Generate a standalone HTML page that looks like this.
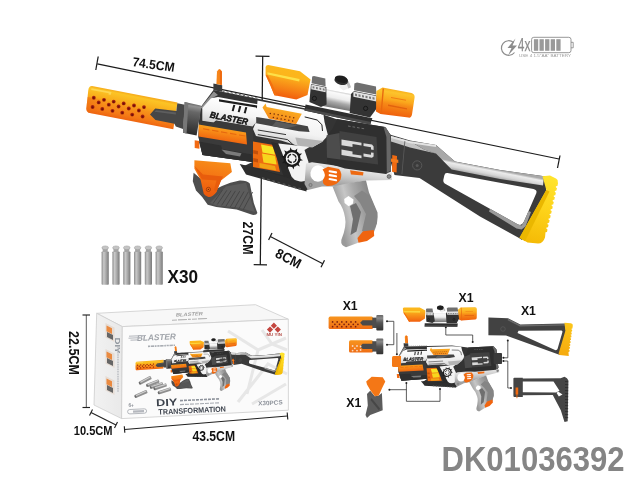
<!DOCTYPE html>
<html lang="en"><head><meta charset="utf-8"><title>DK01036392</title>
<style>html,body{margin:0;padding:0;background:#fff;overflow:hidden}svg{display:block}</style></head>
<body>
<svg width="640" height="480" viewBox="0 0 640 480">
<defs><filter id="idf" x="0" y="0" width="640" height="480" filterUnits="userSpaceOnUse" color-interpolation-filters="sRGB"><feGaussianBlur stdDeviation="0.45"/></filter><linearGradient id="gSilv" gradientUnits="userSpaceOnUse" x1="480" y1="166.4" x2="478" y2="176.6"><stop offset="0" stop-color="#a8a8a8"/><stop offset="0.2" stop-color="#ececec"/><stop offset="0.55" stop-color="#d6d6d6"/><stop offset="1" stop-color="#8f8f8f"/></linearGradient><linearGradient id="gYel" gradientUnits="userSpaceOnUse" x1="548" y1="178" x2="532" y2="242"><stop offset="0" stop-color="#ffe32c"/><stop offset="0.5" stop-color="#fdd219"/><stop offset="1" stop-color="#f5bb07"/></linearGradient><linearGradient id="gFP" gradientUnits="userSpaceOnUse" x1="232" y1="100" x2="228" y2="124"><stop offset="0" stop-color="#ffffff"/><stop offset="0.55" stop-color="#f4f4f4"/><stop offset="1" stop-color="#d4d4d4"/></linearGradient><linearGradient id="gMid" gradientUnits="userSpaceOnUse" x1="300" y1="108" x2="293" y2="148"><stop offset="0" stop-color="#ffffff"/><stop offset="0.6" stop-color="#f2f2f2"/><stop offset="1" stop-color="#cfcfcf"/></linearGradient><linearGradient id="gVent" gradientUnits="userSpaceOnUse" x1="282" y1="106" x2="278" y2="123"><stop offset="0" stop-color="#fbb524"/><stop offset="0.35" stop-color="#f9a11e"/><stop offset="1" stop-color="#f3851a"/></linearGradient><linearGradient id="gHg" gradientUnits="userSpaceOnUse" x1="222" y1="127" x2="220" y2="141"><stop offset="0" stop-color="#f9a21b"/><stop offset="0.4" stop-color="#f88a17"/><stop offset="1" stop-color="#ef650f"/></linearGradient><linearGradient id="gFrame" gradientUnits="userSpaceOnUse" x1="350" y1="165" x2="347" y2="186"><stop offset="0" stop-color="#f0f0f0"/><stop offset="0.5" stop-color="#cfcfcf"/><stop offset="1" stop-color="#a2a2a2"/></linearGradient><linearGradient id="gGrip" gradientUnits="userSpaceOnUse" x1="338" y1="215" x2="376" y2="205"><stop offset="0" stop-color="#9a9a9a"/><stop offset="0.3" stop-color="#c6c6c6"/><stop offset="0.55" stop-color="#a8a8a8"/><stop offset="1" stop-color="#808080"/></linearGradient><linearGradient id="gBell" gradientUnits="userSpaceOnUse" x1="290" y1="66" x2="283.5" y2="99"><stop offset="0" stop-color="#fbb81c"/><stop offset="0.3" stop-color="#fcb51c"/><stop offset="0.5" stop-color="#f99a19"/><stop offset="0.75" stop-color="#f57a14"/><stop offset="1" stop-color="#f0560c"/></linearGradient><linearGradient id="gTube" gradientUnits="userSpaceOnUse" x1="340" y1="91" x2="336.5" y2="108"><stop offset="0" stop-color="#b8b8b8"/><stop offset="0.15" stop-color="#fafafa"/><stop offset="0.45" stop-color="#ededed"/><stop offset="0.7" stop-color="#a8a8a8"/><stop offset="1" stop-color="#7a7a7a"/></linearGradient><linearGradient id="gEye" gradientUnits="userSpaceOnUse" x1="398" y1="90" x2="393.5" y2="117"><stop offset="0" stop-color="#f9ae1b"/><stop offset="0.12" stop-color="#fdc42c"/><stop offset="0.4" stop-color="#fba81c"/><stop offset="0.55" stop-color="#f68a17"/><stop offset="1" stop-color="#ef5c0c"/></linearGradient><linearGradient id="gSil" gradientUnits="userSpaceOnUse" x1="132" y1="94" x2="126.5" y2="121"><stop offset="0" stop-color="#f6ab1b"/><stop offset="0.08" stop-color="#fcc425"/><stop offset="0.36" stop-color="#f9ad1b"/><stop offset="0.5" stop-color="#f7931a"/><stop offset="0.8" stop-color="#f47a16"/><stop offset="1" stop-color="#ee6110"/></linearGradient><linearGradient id="gSilL" gradientUnits="userSpaceOnUse" x1="87" y1="100" x2="104" y2="103"><stop offset="0" stop-color="#ee6a10" stop-opacity="0.55"/><stop offset="1" stop-color="#ee6a10" stop-opacity="0"/></linearGradient><linearGradient id="gRing" gradientUnits="userSpaceOnUse" x1="193" y1="103" x2="188" y2="134"><stop offset="0" stop-color="#5a5a5a"/><stop offset="0.1" stop-color="#939393"/><stop offset="0.28" stop-color="#676767"/><stop offset="0.7" stop-color="#434343"/><stop offset="1" stop-color="#2c2c2c"/></linearGradient><linearGradient id="gFg" gradientUnits="userSpaceOnUse" x1="214" y1="161" x2="207" y2="196"><stop offset="0" stop-color="#f78c18"/><stop offset="0.45" stop-color="#f47414"/><stop offset="1" stop-color="#ec590c"/></linearGradient><linearGradient id="gDartG" gradientUnits="userSpaceOnUse" x1="0" y1="0" x2="7.2" y2="0"><stop offset="0" stop-color="#8a8a8a"/><stop offset="0.3" stop-color="#c9c9c9"/><stop offset="0.6" stop-color="#a9a9a9"/><stop offset="1" stop-color="#7a7a7a"/></linearGradient><g id="dart"><rect x="0" y="5.6" width="7.2" height="33.4" rx="0.8" fill="url(#gDartG)"/><rect x="1.1" y="2.2" width="5" height="4" fill="#a4a4a4"/><ellipse cx="3.6" cy="2" rx="3.3" ry="1.9" fill="#c4c4c4" stroke="#9a9a9a" stroke-width="0.5"/></g><linearGradient id="gBoxL" gradientUnits="userSpaceOnUse" x1="96" y1="360" x2="122" y2="360"><stop offset="0" stop-color="#f1f1f1"/><stop offset="1" stop-color="#e9e9e9"/></linearGradient><linearGradient id="gPS" x1="0" y1="0" x2="0" y2="1"><stop offset="0" stop-color="#f7941d"/><stop offset="0.3" stop-color="#f58a1c"/><stop offset="1" stop-color="#ef6d14"/></linearGradient><linearGradient id="gPR" x1="0" y1="0" x2="0" y2="1"><stop offset="0" stop-color="#666"/><stop offset="0.2" stop-color="#8a8a8a"/><stop offset="0.5" stop-color="#555"/><stop offset="1" stop-color="#333"/></linearGradient><linearGradient id="gPY" gradientUnits="userSpaceOnUse" x1="566" y1="323" x2="560" y2="356"><stop offset="0" stop-color="#fbc51a"/><stop offset="1" stop-color="#f5a90d"/></linearGradient></defs>
<rect width="640" height="480" fill="#fff"/>
<g filter="url(#idf)">
<g stroke="#1c1c1c" stroke-width="1.25" fill="none" stroke-linecap="butt">
<path d="M97.3,63.8 L559,159"/><path d="M98.2,56.5 L95.8,70"/><path d="M560,155.5 L557.5,168"/>
<path d="M262.7,56 L260.3,265"/><path d="M255.5,56.2 L269.5,56.4"/><path d="M253.7,264.6 L267,264.8"/>
<path d="M270.3,236.5 L322.8,263.8"/><path d="M272,233 L268.6,240"/><path d="M324.5,260.3 L321,267.3"/>
</g>
<text x="131.9" y="66.1" transform="rotate(8 131.9 66.1)" font-family="Liberation Sans, sans-serif" font-weight="bold" fill="#111" font-size="13" textLength="42.5" lengthAdjust="spacingAndGlyphs">74.5CM</text>
<text x="243" y="221.5" transform="rotate(90 243 221.5)" font-family="Liberation Sans, sans-serif" font-weight="bold" fill="#111" font-size="14.5" textLength="33" lengthAdjust="spacingAndGlyphs">27CM</text>
<text x="274.3" y="256.6" transform="rotate(27 274.3 256.6)" font-family="Liberation Sans, sans-serif" font-weight="bold" fill="#111" font-size="14" textLength="27" lengthAdjust="spacingAndGlyphs">8CM</text>
<g id="gun">
<g id="stock"><path fill-rule="evenodd" fill="#3b3b3b" d="M388,134 L410,140.5 L436,145 L455,161.5 L500,170 L546,176.5 L546,192 L522,240 L519,238 L480,216.5 L419.5,178 L394.5,175 L390,160Z M447.5,173 L533.5,189 Q537.5,190 536.3,193.3 L524,221.6 Q521.6,226.6 517.6,224.2 L446,184.3 Q443,182.8 443.3,180 L444.3,175.4 Q445,172.5 447.5,173Z"/><polygon points="410.0,141.0 436.0,145.0 455.0,161.5 500.0,170.0 544.0,176.3 543.0,185.4 500.0,179.0 451.6,169.4 436.0,153.4 424.0,149.6" fill="url(#gSilv)" /><polygon points="490.0,208.8 517.6,224.2 521.6,225.6 524.0,221.6 528.5,211.0 531.0,212.0 525.5,226.5 521.5,229.6 516.5,228.6 489.0,211.6" fill="#9c9c9c" /><path d="M542.5,176.3 L550,175.6 L556,178.6 Q558.3,180 557.8,182 L558.0,183.5 L557.4,186.0 L555.9,186.3 L555.9,187.5 L557.0,188.1 L556.4,190.6 L554.9,190.9 L554.8,192.1 L555.9,192.7 L555.3,195.2 L553.8,195.5 L553.8,196.7 L554.9,197.3 L554.3,199.8 L552.8,200.1 L552.7,201.3 L553.8,201.9 L553.2,204.4 L551.7,204.7 L551.7,205.9 L552.8,206.5 L552.2,209.0 L550.7,209.3 L550.6,210.4 L551.7,211.0 L551.2,213.6 L549.7,213.9 L549.6,215.0 L550.7,215.6 L550.1,218.2 L548.6,218.5 L548.5,219.6 L549.6,220.2 L549.1,222.8 L547.6,223.1 L547.5,224.2 L548.6,224.8 L548.0,227.3 L546.5,227.6 L546.4,228.8 L547.5,229.4 L547.0,231.9 L545.5,232.2 L545.4,233.4 L545,237.5 Q543,243.5 538,243.6 L527.5,242.5 L519.5,237.8 L546.3,190Z" fill="url(#gYel)"/><polygon points="546.3,190.0 549.5,191.5 525.0,241.2 519.5,237.8" fill="#eab700" /><circle cx="417.2" cy="165.4" r="4.6" fill="none" stroke="#585858" stroke-width="1"/><circle cx="417.2" cy="165.4" r="1.5" fill="#585858"/><polygon points="392.3,155.0 397.0,156.0 396.6,172.6 392.0,171.8" fill="#f06a12" /><polygon points="391.0,158.5 398.3,159.8 398.3,163.0 391.0,161.7" fill="#f27a1c" /><polygon points="391.0,136.0 410.0,141.2 424.0,149.6 436.0,153.4 410.0,147.4 391.0,141.6" fill="#c4c4c4" /><polygon points="391.0,136.0 410.0,141.2 436.0,145.0 436.0,147.0 410.0,143.2 391.0,138.0" fill="#e4e4e4" /><polygon points="404.5,141.0 405.3,141.2 402.3,174.2 401.5,174.1" fill="#5a5a5a" /></g>
<g id="body"><path d="M200,108 L213.5,90 L259,99 L306,108.5 L336,119 L385,127 L390.5,135 L391,171 L386,178.5 L352,178 L340,172 L331,176 L306,190.5 L246,173 L244,166 L252.5,162 L202.5,155 L198.5,137 L199,121Z" fill="#343434"/><polygon points="213.4,83.6 222.2,85.2 222.2,91.7 213.4,90.3" fill="#3a3a3a" /><path d="M216.4,84 L217,71.5 Q219.5,66.5 221.9,71.5 L221.9,85Z" fill="#f6851a"/><polygon points="219.8,70.0 221.9,71.5 221.9,85.0 220.0,84.6" fill="#ee6a10" /><polygon points="222.5,90.4 224.5,90.8 224.5,92.2 222.5,91.8" fill="#777" /><polygon points="226.6,91.2 228.6,91.6 228.6,93.0 226.6,92.6" fill="#777" /><polygon points="230.7,92.1 232.7,92.5 232.7,93.9 230.7,93.5" fill="#777" /><polygon points="234.8,92.9 236.8,93.3 236.8,94.7 234.8,94.3" fill="#777" /><polygon points="238.9,93.8 240.9,94.2 240.9,95.6 238.9,95.2" fill="#777" /><polygon points="243.0,94.6 245.0,95.0 245.0,96.4 243.0,96.0" fill="#777" /><polygon points="247.1,95.4 249.1,95.8 249.1,97.2 247.1,96.8" fill="#777" /><polygon points="251.2,96.3 253.2,96.7 253.2,98.1 251.2,97.7" fill="#777" /><polygon points="255.3,97.1 257.3,97.5 257.3,98.9 255.3,98.5" fill="#777" /><polygon points="200.3,108.0 213.8,91.5 218.0,95.0 211.5,98.5 203.0,108.5" fill="#909090" /><polygon points="202.3,108.0 211.0,98.2 218.0,97.0 259.0,104.6 263.0,107.0 261.0,122.0 256.0,122.5 252.5,126.5 216.0,120.5 213.5,122.5 202.3,120.8" fill="url(#gFP)" /><polygon points="219.0,99.2 257.5,105.4 260.2,109.0 258.0,109.4 256.0,107.4 219.0,101.6" fill="#1e1e1e" /><polygon points="233.3,104.8 235.3,105.1 233.7,111.3 231.7,111.0" fill="#1d1d1d" /><polygon points="239.3,105.8 241.3,106.2 239.7,112.3 237.7,112.0" fill="#1d1d1d" /><polygon points="245.3,106.9 247.3,107.2 245.7,113.4 243.7,113.0" fill="#1d1d1d" /><text x="209.6" y="117.6" transform="rotate(11 209.6 117.6)" font-family="Liberation Sans, sans-serif" font-weight="bold" font-style="italic" font-size="8.8" textLength="38.5" lengthAdjust="spacingAndGlyphs" fill="#111" stroke="#111" stroke-width="0.45">BLASTER</text><polygon points="257.5,100.4 306.0,110.0 323.5,114.8 324.5,122.0 328.0,135.6 322.0,142.0 312.5,147.3 300.0,146.5 281.0,140.5 256.0,136.0 253.0,129.0 256.0,122.0" fill="url(#gMid)" /><polygon points="256.2,116.9 266.0,118.6 296.0,124.0 307.8,126.2 309.6,132.0 299.0,131.2 256.2,123.2" fill="#444" /><polygon points="276.0,121.6 298.0,125.6 286.0,128.6 272.0,126.0" fill="#5b5b5b" /><path d="M304.7,116.9 L317.2,120 L321.9,124.7 L322.5,131" fill="none" stroke="#1f1f1f" stroke-width="1"/><path d="M257.8,130 L286,134.6 M257.8,134.6 L287.5,139.6 L294.5,146" fill="none" stroke="#1f1f1f" stroke-width="0.9"/><polygon points="295.3,137.6 323.4,141.0 312.5,147.3 298.0,146.4" fill="#b4b4b4" /><polygon points="262.5,107.5 265.6,103.4 266.6,106.9 301.8,113.8 296.0,124.2 268.8,118.6" fill="url(#gVent)" /><circle cx="270.3" cy="113.4" r="0.75" fill="#6e2a0a"/><circle cx="274.2" cy="114.1" r="0.75" fill="#6e2a0a"/><circle cx="278.1" cy="114.8" r="0.75" fill="#6e2a0a"/><circle cx="282.0" cy="115.6" r="0.75" fill="#6e2a0a"/><circle cx="285.9" cy="116.3" r="0.75" fill="#6e2a0a"/><circle cx="289.8" cy="117.0" r="0.75" fill="#6e2a0a"/><circle cx="293.7" cy="117.7" r="0.75" fill="#6e2a0a"/><circle cx="273.4" cy="117.6" r="0.75" fill="#6e2a0a"/><circle cx="277.2" cy="118.3" r="0.75" fill="#6e2a0a"/><circle cx="281.1" cy="119.0" r="0.75" fill="#6e2a0a"/><circle cx="284.9" cy="119.6" r="0.75" fill="#6e2a0a"/><circle cx="288.8" cy="120.3" r="0.75" fill="#6e2a0a"/><circle cx="292.6" cy="121.0" r="0.75" fill="#6e2a0a"/><polygon points="199.4,121.3 214.0,122.8 216.5,120.8 252.5,127.0 254.0,146.0 252.5,162.0 202.5,155.0 198.5,137.0" fill="#3a3a3a" /><polygon points="198.6,124.4 246.0,132.4 247.0,144.6 198.6,136.4" fill="url(#gHg)" /><polygon points="203.0,128.2 209.4,129.3 209.4,130.4 203.0,129.3" fill="#e6680f" /><polygon points="212.0,129.8 218.4,130.8 218.4,131.9 212.0,130.8" fill="#e6680f" /><polygon points="221.0,131.3 227.4,132.4 227.4,133.5 221.0,132.4" fill="#e6680f" /><polygon points="230.0,132.8 236.4,133.9 236.4,135.0 230.0,133.9" fill="#e6680f" /><polygon points="239.0,134.4 245.4,135.5 245.4,136.6 239.0,135.5" fill="#e6680f" /><polygon points="194.7,140.2 199.4,141.0 199.4,148.8 194.7,148.0" fill="#f26a12" /><polygon points="199.0,141.6 221.0,145.5 222.0,149.0 252.0,154.5 252.5,162.0 202.5,155.0" fill="#2f2f2f" /><polygon points="221.5,149.6 241.5,153.2 240.0,156.5 226.0,154.0" fill="#7a7a7a" /><polygon points="253.0,141.5 274.0,145.0 280.0,172.0 253.0,167.0" fill="#ee6c10" /><polygon points="253.2,150.0 258.0,151.0 258.0,154.5 253.2,153.5" fill="#c4500a" /><polygon points="253.2,158.0 258.0,159.0 258.0,162.5 253.2,161.5" fill="#c4500a" /><polygon points="261.0,144.6 273.0,146.8 275.0,154.8 262.5,152.6" fill="#f6e626" /><polygon points="262.0,153.6 275.0,155.8 276.6,164.6 263.5,162.4" fill="#f7d71d" /><polygon points="259.5,163.0 275.0,166.0 276.2,170.4 259.5,167.6" fill="#f1a414" /><polygon points="271.0,142.0 277.8,143.4 291.5,176.5 284.0,177.0" fill="#2b2b2b" /><polygon points="244.0,165.5 284.0,175.5 291.0,176.5 290.0,181.0 246.0,171.5" fill="#2b2b2b" /><polygon points="278.3,143.4 309.5,146.9 304.5,150.0 308.5,162.0 309.5,180.0 297.0,182.5 291.5,176.5" fill="#f3f3f3" /><path d="M299.8,158.4 L303.0,160.3 L299.3,161.0Z M298.3,163.0 L299.8,166.5 L296.4,164.8Z M294.4,165.8 L293.6,169.5 L291.8,166.2Z M289.6,165.8 L286.7,168.3 L287.2,164.6Z M285.7,163.0 L281.9,163.3 L284.5,160.6Z M284.2,158.4 L281.0,156.5 L284.7,155.8Z M285.7,153.8 L284.2,150.3 L287.6,152.0Z M289.6,151.0 L290.4,147.3 L292.2,150.6Z M294.4,151.0 L297.3,148.5 L296.8,152.2Z M298.3,153.8 L302.1,153.5 L299.5,156.2Z " fill="#1b1b1b"/><circle cx="292" cy="158.4" r="7.4" fill="none" stroke="#1b1b1b" stroke-width="2.3"/><circle cx="292" cy="158.4" r="4.1" fill="none" stroke="#1b1b1b" stroke-width="1.3" stroke-dasharray="5 1.44"/><polygon points="239.7,164.0 246.0,165.5 305.0,183.0 306.5,191.5 246.0,174.5 242.8,169.0" fill="#2e2e2e" /><polygon points="262.0,177.0 264.6,177.8 264.6,179.6 262.0,178.8" fill="#505050" /><polygon points="267.2,178.5 269.8,179.2 269.8,181.1 267.2,180.3" fill="#505050" /><polygon points="272.4,180.0 275.0,180.8 275.0,182.6 272.4,181.8" fill="#505050" /><polygon points="277.6,181.5 280.2,182.2 280.2,184.1 277.6,183.3" fill="#505050" /><polygon points="282.8,183.0 285.4,183.8 285.4,185.6 282.8,184.8" fill="#505050" /><polygon points="288.0,184.5 290.6,185.2 290.6,187.1 288.0,186.3" fill="#505050" /><polygon points="293.2,186.0 295.8,186.8 295.8,188.6 293.2,187.8" fill="#505050" /><polygon points="298.4,187.5 301.0,188.2 301.0,190.1 298.4,189.3" fill="#505050" /><path d="M306,163.5 L312,162.2 L345,167 L392,172.5 L392,180 L366,180.5 L352,183 L338,186.5 L322,186.5 L308,190 L304.5,184Z" fill="url(#gFrame)"/><ellipse cx="318" cy="173.5" rx="7.6" ry="8.2" transform="rotate(8 318 173.5)" fill="#ffffff"/><path d="M322.5,169.5 L328,166.8 L339,169 Q342.6,173 340.6,179.5 Q336.5,186.5 327,186 Q322,184.5 323,180 Q327,175 322.5,169.5Z" fill="#f1690f"/><rect x="328.5" y="170.6" width="8.6" height="2.1" rx="1" fill="#fff" transform="rotate(10 332 172.0)"/><rect x="328.5" y="174.5" width="8.6" height="2.1" rx="1" fill="#fff" transform="rotate(10 332 175.9)"/><rect x="328.5" y="178.4" width="8.6" height="2.1" rx="1" fill="#fff" transform="rotate(10 332 179.8)"/><polygon points="350.0,170.3 363.5,172.2 363.0,175.6 351.0,174.6" fill="#ee6a12" /><polygon points="327.0,136.0 333.0,128.0 337.0,119.0 385.0,127.0 390.5,135.0 391.0,171.0 386.0,174.0 345.0,168.5 327.0,163.0" fill="#2f2f2f" /><polygon points="339.5,131.0 376.5,137.0 378.0,164.5 340.5,159.5" fill="#414141" /><polygon points="326.5,135.6 339.5,133.0 340.5,159.5 327.0,157.8" fill="#4c4c4c" /><polygon points="383.6,127.2 386.0,127.4 390.5,135.0 391.0,170.5 386.8,173.0 386.4,137.0" fill="#676767" /><path d="M341.5,139.6 L361.5,142.8 L361.5,145.4 L352.5,144 L352.5,147 L341.5,145.2Z M341.5,149.6 L352.5,151.4 L352.5,154.2 L361.5,155.6 L361.5,158.2 L341.5,155Z" fill="#dadada"/><path d="M363.5,143.2 L372,144.6 L373.6,146.4 L373.6,150 L371,149.6 L371,147.2 L363.5,146Z M363.5,153.6 L371,154.8 L371,152.4 L373.6,152.8 L373.6,156.4 L372,157.8 L363.5,156.4Z" fill="#dadada"/><polygon points="348.0,125.6 350.6,126.0 350.6,127.0 348.0,126.6" fill="#6c6c6c" /><polygon points="352.5,126.3 355.1,126.8 355.1,127.8 352.5,127.3" fill="#6c6c6c" /><polygon points="357.0,127.1 359.6,127.5 359.6,128.5 357.0,128.1" fill="#6c6c6c" /><polygon points="361.5,127.8 364.1,128.2 364.1,129.2 361.5,128.8" fill="#6c6c6c" /><circle cx="389" cy="176.5" r="1.9" fill="#8a8a8a" stroke="#444" stroke-width="0.6"/><circle cx="310.5" cy="185" r="1.6" fill="#9a9a9a" stroke="#555" stroke-width="0.5"/><path d="M332.5,186.5 L352,182.5 L366,180.5 L369,192.5 L377.5,212.5 Q378.5,222 373.8,232.5 L357.5,243 L346,247.2 Q340.5,245.5 341.3,240 Q347,226 345,217.5 Q343.5,208 338.5,201.5Z" fill="url(#gGrip)"/><polygon points="354.0,196.0 362.0,190.5 370.0,196.0 377.0,213.0 377.0,223.0 372.0,233.5 362.0,231.0 366.0,214.0 360.0,203.0" fill="#858585" /><polygon points="350.0,206.0 356.0,203.0 361.0,212.0 356.5,231.5 350.5,235.0 353.0,219.0" fill="#6f6f6f" /><polygon points="344.2,199.0 348.5,196.0 353.5,199.5 353.0,203.5 348.6,206.2 344.6,203.0" fill="#ffffff" /><path d="M357.5,238 L363,231.2 L373.8,230 L374.2,236 L367,241 L358.5,242.7Z" fill="#f0640f"/></g>
<g id="scope"><path d="M265.6,67 Q266,65 268.2,65 L300,71.25 L310.6,79.4 L310,82 L307.5,95 L296.3,99.6 L274.4,95.2 L270,84.4 L265.6,75Z" fill="url(#gBell)"/><polygon points="267.3,72.2 299.6,79.0 299.2,81.4 267.6,74.6" fill="#fde048" /><polygon points="265.6,75.0 270.0,84.4 274.4,95.2 277.0,95.6 272.5,84.6 268.0,75.4" fill="#f4700f" /><polygon points="305.6,104.6 372.4,118.2 370.2,124.6 304.4,110.6" fill="#2f2f2f" /><polygon points="306.0,108.4 371.0,122.0 370.2,124.6 304.4,110.6" fill="#4a4a4a" /><polygon points="322.0,88.6 356.0,95.0 352.5,111.5 320.0,105.5" fill="url(#gTube)" /><polygon points="311.0,84.0 326.3,87.0 326.6,104.5 321.0,107.0 309.4,102.0" fill="#333" /><polygon points="312.2,76.6 314.0,76.0 325.3,78.6 325.6,86.2 311.6,83.3" fill="#6f6f6f" /><polygon points="311.3,84.4 325.6,87.4 325.6,92.3 311.3,89.3" fill="#e2e2e2" /><polygon points="312.6,86.2 314.4,86.6 314.4,88.6 312.6,88.2" fill="#7a7a7a" /><polygon points="316.0,86.9 317.8,87.3 317.8,89.3 316.0,88.9" fill="#7a7a7a" /><polygon points="319.4,87.6 321.2,88.0 321.2,90.0 319.4,89.6" fill="#7a7a7a" /><polygon points="322.8,88.3 324.6,88.7 324.6,90.7 322.8,90.3" fill="#7a7a7a" /><circle cx="314.4" cy="98.4" r="2.1" fill="none" stroke="#111" stroke-width="0.8"/><polygon points="340.0,82.5 348.5,81.0 351.0,87.3 343.5,90.5 339.5,87.5" fill="#f0f0f0" /><polygon points="346.0,82.0 348.5,81.0 351.0,87.3 348.4,88.4" fill="#bdbdbd" /><ellipse cx="341.2" cy="80.6" rx="6.9" ry="4.3" transform="rotate(14 341.2 80.6)" fill="#303030"/><ellipse cx="341.4" cy="79.2" rx="6.6" ry="3.5" transform="rotate(14 341.4 79.2)" fill="#1e1e1e"/><polygon points="351.0,94.0 354.0,91.0 376.6,95.6 377.0,108.0 370.0,117.5 349.7,113.0" fill="#333" /><polygon points="354.4,83.6 357.0,82.6 376.0,86.6 376.4,94.6 354.0,90.2" fill="#6f6f6f" /><polygon points="353.4,91.4 376.4,96.0 376.4,101.4 353.4,96.8" fill="#e2e2e2" /><polygon points="355.0,93.6 357.0,94.0 357.0,96.2 355.0,95.8" fill="#7a7a7a" /><polygon points="358.5,94.3 360.5,94.7 360.5,96.9 358.5,96.5" fill="#7a7a7a" /><polygon points="362.0,95.0 364.0,95.4 364.0,97.6 362.0,97.2" fill="#7a7a7a" /><polygon points="365.5,95.7 367.5,96.1 367.5,98.3 365.5,97.9" fill="#7a7a7a" /><polygon points="369.0,96.4 371.0,96.8 371.0,99.0 369.0,98.6" fill="#7a7a7a" /><polygon points="372.5,97.1 374.5,97.5 374.5,99.7 372.5,99.3" fill="#7a7a7a" /><circle cx="365.6" cy="108.4" r="2.1" fill="none" stroke="#111" stroke-width="0.8"/><path d="M376.4,91 L382.5,87.6 L411.5,93 Q415,94 414.6,97.5 L412,114.5 Q411.4,118 408.5,117.6 L380.5,114 L376,111.5Z" fill="url(#gEye)"/><polygon points="382.6,88.4 384.0,88.6 381.8,114.1 380.5,114.0" fill="#e8690f" /><polygon points="388.0,104.6 407.0,108.2 407.0,109.6 388.0,106.0" fill="#e2620e" /><polygon points="391.0,97.0 406.0,99.8 406.0,100.8 391.0,98.0" fill="#f07c14" /></g>
<g id="sil"><path d="M92,86 L177.5,102.4 L173.3,129.3 L88.5,112.8 Q86.3,111.5 86.3,109 L88.3,90 Q88.8,86 92,86Z" fill="url(#gSil)"/><path d="M87.6,97 L104,100 L102,115.5 L88.5,112.8 Q86.3,111.5 86.3,109Z" fill="url(#gSilL)"/><polygon points="91.5,88.2 111.5,92.1 110.8,94.8 108.5,94.4 108.8,93.3 91.2,89.9" fill="#fdd652" /><circle cx="93.8" cy="97.75" r="1.9" fill="#a3200f"/><circle cx="93.8" cy="98.05" r="1.0" fill="#6d120a"/><circle cx="104" cy="99.8" r="1.9" fill="#a3200f"/><circle cx="104" cy="100.1" r="1.0" fill="#6d120a"/><circle cx="113.7" cy="101.6" r="1.9" fill="#a3200f"/><circle cx="113.7" cy="101.89999999999999" r="1.0" fill="#6d120a"/><circle cx="123.7" cy="103.4" r="1.9" fill="#a3200f"/><circle cx="123.7" cy="103.7" r="1.0" fill="#6d120a"/><circle cx="134" cy="105.5" r="1.9" fill="#a3200f"/><circle cx="134" cy="105.8" r="1.0" fill="#6d120a"/><circle cx="144" cy="107.1" r="1.9" fill="#a3200f"/><circle cx="144" cy="107.39999999999999" r="1.0" fill="#6d120a"/><circle cx="98.7" cy="102.4" r="1.9" fill="#a3200f"/><circle cx="98.7" cy="102.7" r="1.0" fill="#6d120a"/><circle cx="108.8" cy="104.7" r="1.9" fill="#a3200f"/><circle cx="108.8" cy="105.0" r="1.0" fill="#6d120a"/><circle cx="118.6" cy="106.5" r="1.9" fill="#a3200f"/><circle cx="118.6" cy="106.8" r="1.0" fill="#6d120a"/><circle cx="128.75" cy="108.5" r="1.9" fill="#a3200f"/><circle cx="128.75" cy="108.8" r="1.0" fill="#6d120a"/><circle cx="138.9" cy="110.5" r="1.9" fill="#a3200f"/><circle cx="138.9" cy="110.8" r="1.0" fill="#6d120a"/><circle cx="92.6" cy="107.0" r="1.9" fill="#a3200f"/><circle cx="92.6" cy="107.3" r="1.0" fill="#6d120a"/><circle cx="102.3" cy="108.9" r="1.9" fill="#a3200f"/><circle cx="102.3" cy="109.2" r="1.0" fill="#6d120a"/><circle cx="112.5" cy="110.8" r="1.9" fill="#a3200f"/><circle cx="112.5" cy="111.1" r="1.0" fill="#6d120a"/><circle cx="122.25" cy="112.7" r="1.9" fill="#a3200f"/><circle cx="122.25" cy="113.0" r="1.0" fill="#6d120a"/><circle cx="132.2" cy="114.6" r="1.9" fill="#a3200f"/><circle cx="132.2" cy="114.89999999999999" r="1.0" fill="#6d120a"/><circle cx="142.6" cy="116.5" r="1.9" fill="#a3200f"/><circle cx="142.6" cy="116.8" r="1.0" fill="#6d120a"/><polygon points="150.0,114.6 155.2,108.5 176.3,111.0 177.3,103.2 185.0,104.8 183.0,128.9 175.8,126.6 174.4,123.7 155.5,120.0" fill="#474747" /><polygon points="156.0,110.2 176.0,112.6 175.8,114.4 154.6,111.8" fill="#5e5e5e" /><polygon points="184.6,102.0 200.6,105.6 201.4,106.8 196.6,135.6 183.0,132.8" fill="url(#gRing)" /><polygon points="184.6,102.0 188.4,102.9 186.6,133.5 183.0,132.8" fill="#777" /></g>
<g id="fgrip"><path d="M193.6,172.7 L192.8,181.3 L196,190.6 L202.2,196.9 L207.7,204.7 L216.3,207 L236.6,209.4 L252.2,214.8 Q256.5,215.3 257.4,213 L253.8,203 L249.8,183.6 Q247,180.3 239.7,180.5 L230.3,182.8 L222,186 L214,190Z" fill="#4e4e4e"/><path d="M226,186.5 L246,182.8 L252,203.5 L255,212 L238,207.6 L216,205.4 L210,203Z" fill="#5c5c5c"/><path d="M213.0,203.6 L222.5,190.0" stroke="#434343" stroke-width="0.9"/><path d="M217.3,204.5 L226.8,190.3" stroke="#434343" stroke-width="0.9"/><path d="M221.6,205.4 L231.1,190.6" stroke="#434343" stroke-width="0.9"/><path d="M225.9,206.3 L235.4,190.9" stroke="#434343" stroke-width="0.9"/><path d="M230.2,207.2 L239.7,191.2" stroke="#434343" stroke-width="0.9"/><path d="M234.5,208.1 L244.0,191.5" stroke="#434343" stroke-width="0.9"/><path d="M238.8,209.0 L248.3,191.8" stroke="#434343" stroke-width="0.9"/><path d="M243.1,209.9 L252.6,192.1" stroke="#434343" stroke-width="0.9"/><path d="M194.4,160.2 L230.3,163.3 L231.9,171.9 L221,180.5 L216.3,192.2 Q212.5,197.4 208.4,196.9 Q204.8,195.8 203.75,193.75 L200.6,179.7 L194.4,168.75Z" fill="url(#gFg)"/><polygon points="194.4,166.0 203.0,174.5 223.0,176.5 221.0,180.5 216.3,192.2 214.0,190.0 216.5,180.6 202.0,179.5" fill="#e85c0c" /><circle cx="208.4" cy="189.4" r="2.1" fill="#ef6a12" stroke="#a33c08" stroke-width="0.9"/><circle cx="208.4" cy="189.4" r="0.7" fill="#7a2c06"/></g>
</g>
<g id="battery"><path d="M513.5,42.5 A7.3,7.3 0 1 0 514.5,52.5" fill="none" stroke="#8c8c8c" stroke-width="1.2"/><path d="M515.5,38.5 L507.5,48 L511.5,48 L508,55.5 L517,45.5 L512.5,45.5Z" fill="#8c8c8c"/><text x="517.8" y="51.3" font-family="Liberation Sans, sans-serif" font-size="18.6" textLength="12.6" lengthAdjust="spacingAndGlyphs" fill="#8c8c8c" stroke="#8c8c8c" stroke-width="0.25">4x</text><rect x="531.6" y="37.3" width="39.4" height="15.4" rx="2.2" fill="none" stroke="#8c8c8c" stroke-width="0.9"/><path d="M571,42.3 L573.2,42.3 L573.2,47.8 L571,47.8" fill="none" stroke="#8c8c8c" stroke-width="0.9"/><rect x="533.9" y="39.2" width="4.3" height="11.6" fill="#9a9a9a"/><rect x="539.5" y="39.2" width="4.3" height="11.6" fill="#9a9a9a"/><rect x="545.1" y="39.2" width="4.3" height="11.6" fill="#9a9a9a"/><rect x="550.7" y="39.2" width="4.3" height="11.6" fill="#9a9a9a"/><rect x="556.3" y="39.2" width="4.3" height="11.6" fill="#9a9a9a"/><text x="519" y="56.6" font-family="Liberation Sans, sans-serif" font-size="3.6" textLength="52" lengthAdjust="spacingAndGlyphs" fill="#9a9a9a">USE 4 1.5"AA" BATTERY</text></g><g id="darts"><use href="#dart" x="101.6" y="245.8"/><use href="#dart" x="112.4" y="245.8"/><use href="#dart" x="123.2" y="245.8"/><use href="#dart" x="134.0" y="245.8"/><use href="#dart" x="144.8" y="245.8"/><use href="#dart" x="155.6" y="245.8"/><text x="167.6" y="282.8" font-family="Liberation Sans, sans-serif" font-weight="bold" font-size="18.5" textLength="30.5" lengthAdjust="spacingAndGlyphs" fill="#111">X30</text></g><g id="box"><polygon points="96.7,313.3 255.5,304.7 288.3,319.2 122.3,326.6" fill="#f7f7f7" stroke="#cdcdcd" stroke-width="0.8" stroke-linejoin="round"/><polygon points="96.7,313.3 122.3,326.6 121.6,418.6 94.0,405.0" fill="url(#gBoxL)" stroke="#cdcdcd" stroke-width="0.8" stroke-linejoin="round"/><polygon points="122.3,326.6 288.3,319.2 288.4,410.2 121.6,418.6" fill="#fbfbfb" stroke="#cdcdcd" stroke-width="0.8" stroke-linejoin="round"/></g><g id="boxc"><path d="M228,331 L258,350 L247,394 M258,350 L286,338 M238,402 L268,364 L287,374 M262,330 L272,344 L287,350 M252,404 L286,384" fill="none" stroke="#e7e7e7" stroke-width="3" stroke-linejoin="miter"/><text x="176" y="316.6" transform="rotate(-3 176 316.6)" font-family="Liberation Sans, sans-serif" font-weight="bold" font-style="italic" font-size="5" textLength="27" lengthAdjust="spacingAndGlyphs" fill="#a2a2a2">BLASTER</text><path d="M172,320.2 L208,318.4" stroke="#b3b3b3" stroke-width="1.1" stroke-dasharray="5 1 9 1 3 1"/><polygon points="105.5,323.0 114.5,327.6 114.5,342.0 105.5,337.5" fill="#e6dcd4" /><polygon points="106.5,325.5 112.0,328.3 112.0,334.0 106.5,331.2" fill="#ea8a40" /><polygon points="107.0,332.0 113.0,335.0 113.0,340.0 107.0,337.0" fill="#666" /><polygon points="105.5,349.0 114.5,353.6 114.5,368.0 105.5,363.5" fill="#e6dcd4" /><polygon points="106.5,351.5 112.0,354.3 112.0,360.0 106.5,357.2" fill="#ea8a40" /><polygon points="107.0,358.0 113.0,361.0 113.0,366.0 107.0,363.0" fill="#666" /><polygon points="105.5,376.0 114.5,380.6 114.5,395.0 105.5,390.5" fill="#e6dcd4" /><polygon points="106.5,378.5 112.0,381.3 112.0,387.0 106.5,384.2" fill="#ea8a40" /><polygon points="107.0,385.0 113.0,388.0 113.0,393.0 107.0,390.0" fill="#666" /><text x="115" y="337.5" transform="rotate(90 115 337.5)" font-family="Liberation Sans, sans-serif" font-weight="bold" font-size="6.4" textLength="16" lengthAdjust="spacingAndGlyphs" fill="#8e949c">DIY</text><path d="M118,347 L118,392" stroke="#b5b8be" stroke-width="1.3" stroke-dasharray="1.6 0.8"/><text x="137" y="341" transform="rotate(-2.4 137 341)" font-family="Liberation Sans, sans-serif" font-weight="bold" font-style="italic" font-size="8.4" textLength="39" lengthAdjust="spacingAndGlyphs" fill="#9fa3a9">BLASTER</text><path d="M148,346.4 L175,345.2" stroke="#a9adb3" stroke-width="1.6" stroke-dasharray="2.2 0.7 3.4 0.7 1.6 0.7"/><path d="M128.5,338.2 L140,337.7 M130.5,340.2 L138,339.9 M129,336.2 L146,335.5" stroke="#b3b6bc" stroke-width="1" fill="none"/><use href="#gun" transform="matrix(0.3096,-0.0802,0.0392,0.3091,104.69,342.44)"/><g transform="translate(139.6,383.4) rotate(-28)"><rect x="0" y="-1.7" width="13" height="3.4" rx="0.7" fill="#8f8f8f"/><rect x="0.3" y="-1.2" width="12" height="1.1" fill="#cfcfcf"/><rect x="-0.6" y="-1.2" width="1.6" height="2.4" fill="#6a6a6a"/></g><g transform="translate(146.9,385.6) rotate(-21)"><rect x="0" y="-1.7" width="13" height="3.4" rx="0.7" fill="#8f8f8f"/><rect x="0.3" y="-1.2" width="12" height="1.1" fill="#cfcfcf"/><rect x="-0.6" y="-1.2" width="1.6" height="2.4" fill="#6a6a6a"/></g><g transform="translate(150.5,387.4) rotate(-17)"><rect x="0" y="-1.7" width="13" height="3.4" rx="0.7" fill="#8f8f8f"/><rect x="0.3" y="-1.2" width="12" height="1.1" fill="#cfcfcf"/><rect x="-0.6" y="-1.2" width="1.6" height="2.4" fill="#6a6a6a"/></g><g transform="translate(154.2,388.8) rotate(-18)"><rect x="0" y="-1.7" width="13" height="3.4" rx="0.7" fill="#8f8f8f"/><rect x="0.3" y="-1.2" width="12" height="1.1" fill="#cfcfcf"/><rect x="-0.6" y="-1.2" width="1.6" height="2.4" fill="#6a6a6a"/></g><g transform="translate(158.5,392.9) rotate(-18)"><rect x="0" y="-1.7" width="13" height="3.4" rx="0.7" fill="#8f8f8f"/><rect x="0.3" y="-1.2" width="12" height="1.1" fill="#cfcfcf"/><rect x="-0.6" y="-1.2" width="1.6" height="2.4" fill="#6a6a6a"/></g><g transform="translate(135.2,396.6) rotate(-24)"><rect x="0" y="-1.7" width="13" height="3.4" rx="0.7" fill="#8f8f8f"/><rect x="0.3" y="-1.2" width="12" height="1.1" fill="#cfcfcf"/><rect x="-0.6" y="-1.2" width="1.6" height="2.4" fill="#6a6a6a"/></g><text x="156.3" y="406.3" transform="rotate(-2.6 156.3 406.3)" font-family="Liberation Sans, sans-serif" font-weight="bold" fill="#3d434d" font-size="10" textLength="21" lengthAdjust="spacingAndGlyphs">DIY</text><text x="158.6" y="414.6" transform="rotate(-2.6 158.6 414.6)" font-family="Liberation Sans, sans-serif" font-weight="bold" fill="#3d434d" font-size="7.6" textLength="67.5" lengthAdjust="spacingAndGlyphs">TRANSFORMATION</text><path d="M180,400.6 L220,398.8" stroke="#8d929b" stroke-width="1.6" stroke-dasharray="3 1"/><path d="M180,404.6 L220,402.8" stroke="#a5a9b0" stroke-width="1.1" stroke-dasharray="4 1"/><text x="128.5" y="407" font-family="Liberation Sans, sans-serif" font-weight="bold" font-size="4.6" fill="#8b8f96">6+</text><rect x="127.5" y="409.6" width="19" height="4.4" rx="2.2" fill="none" stroke="#9a9ea5" stroke-width="0.7" transform="rotate(-2.6 127.5 409.6)"/><rect x="133" y="410.6" width="11" height="2.2" fill="#b4b7bd" transform="rotate(-2.6 133 410.6)"/><path d="M273.9,322.6 L277,325.7 L273.9,328.8 L270.8,325.7Z M270,326.5 L273.1,329.6 L270,332.7 L266.9,329.6Z M277.8,326.5 L280.9,329.6 L277.8,332.7 L274.7,329.6Z" fill="#c4463f"/><text x="266.4" y="336.2" font-family="Liberation Sans, sans-serif" font-weight="bold" font-size="3.4" textLength="15.6" lengthAdjust="spacingAndGlyphs" fill="#b5504a">MU YIN</text><text x="258.2" y="405.5" transform="rotate(-2.6 258.2 405.5)" font-family="Liberation Sans, sans-serif" font-weight="bold" font-size="6.2" textLength="24.5" lengthAdjust="spacingAndGlyphs" fill="#8e939b">X30PCS</text></g><g stroke="#222" stroke-width="1.15" fill="none"><path d="M86.3,315 L86.3,407.5" stroke="#4a4a4a" stroke-width="0.9"/><path d="M82.5,315 L90,315"/><path d="M82.5,407.5 L90,407.5"/><path d="M91,412.5 L116,425"/><path d="M92.5,409.5 L89.5,415.5"/><path d="M117.5,422 L114.5,428"/><path d="M124.5,429.5 L287.5,416"/><path d="M124.3,426.3 L124.8,432.8"/><path d="M287.2,412.5 L287.8,419.5"/></g><text x="69.3" y="331" transform="rotate(90 69.3 331)" font-family="Liberation Sans, sans-serif" font-weight="bold" fill="#111" font-size="14.5" textLength="44" lengthAdjust="spacingAndGlyphs">22.5CM</text><text x="73.8" y="435" font-family="Liberation Sans, sans-serif" font-weight="bold" fill="#111" font-size="13.5" textLength="38.8" lengthAdjust="spacingAndGlyphs">10.5CM</text><text x="192.5" y="441" font-family="Liberation Sans, sans-serif" font-weight="bold" fill="#111" font-size="14.5" textLength="42.5" lengthAdjust="spacingAndGlyphs">43.5CM</text><g id="parts"><text x="342.7" y="309.6" font-family="Liberation Sans, sans-serif" font-weight="bold" fill="#111" font-size="13.6" textLength="15" lengthAdjust="spacingAndGlyphs">X1</text><text x="458.5" y="302.2" font-family="Liberation Sans, sans-serif" font-weight="bold" fill="#111" font-size="13.6" textLength="15" lengthAdjust="spacingAndGlyphs">X1</text><text x="520.9" y="314.8" font-family="Liberation Sans, sans-serif" font-weight="bold" fill="#111" font-size="13.6" textLength="15" lengthAdjust="spacingAndGlyphs">X1</text><text x="346.3" y="407" font-family="Liberation Sans, sans-serif" font-weight="bold" fill="#111" font-size="13.6" textLength="15" lengthAdjust="spacingAndGlyphs">X1</text><g stroke="#333" stroke-width="0.8" fill="none"><path d="M387,321.3 H393.8 V344.7 H387"/><path d="M396.9,333 V354"/><path d="M445.8,327.2 V335 H472.7 V342"/><path d="M389.4,389.7 H406.4"/><path d="M406.4,383 V401.3 H440 V389"/><path d="M507.8,340.6 V357.8 H503.4"/><path d="M503.4,361 H507.8 V388 H511"/></g><circle cx="387" cy="321.3" r="1" fill="#222"/><circle cx="387" cy="344.7" r="1" fill="#222"/><circle cx="396.9" cy="354.3" r="1" fill="#222"/><circle cx="445.8" cy="327.2" r="1" fill="#222"/><circle cx="472.7" cy="342" r="1" fill="#222"/><circle cx="389.4" cy="389.7" r="1" fill="#222"/><circle cx="406.4" cy="383" r="1" fill="#222"/><circle cx="440" cy="389" r="1" fill="#222"/><circle cx="507.8" cy="340.6" r="1" fill="#222"/><circle cx="503.4" cy="357.8" r="1" fill="#222"/><circle cx="503.4" cy="361" r="1" fill="#222"/><circle cx="511" cy="388" r="1" fill="#222"/><rect x="328.6" y="316.6" width="44.5" height="12.4" rx="1.6" fill="url(#gPS)"/><path d="M360.1,322.8 L362.6,320.2 L373.1,320.2 L373.1,325.40000000000003 L362.6,325.40000000000003Z" fill="#4a4a4a"/><rect x="372.3" y="317.6" width="5.6" height="10.4" fill="#4d4d4d"/><rect x="376.3" y="315.0" width="7" height="15.6" rx="1" fill="url(#gPR)"/><circle cx="332.6" cy="321.9" r="0.85" fill="#7a1f10"/><circle cx="337.2" cy="321.9" r="0.85" fill="#7a1f10"/><circle cx="341.8" cy="321.9" r="0.85" fill="#7a1f10"/><circle cx="346.4" cy="321.9" r="0.85" fill="#7a1f10"/><circle cx="351.0" cy="321.9" r="0.85" fill="#7a1f10"/><circle cx="355.6" cy="321.9" r="0.85" fill="#7a1f10"/><circle cx="334.9" cy="324.3" r="0.85" fill="#7a1f10"/><circle cx="339.5" cy="324.3" r="0.85" fill="#7a1f10"/><circle cx="344.1" cy="324.3" r="0.85" fill="#7a1f10"/><circle cx="348.7" cy="324.3" r="0.85" fill="#7a1f10"/><circle cx="353.3" cy="324.3" r="0.85" fill="#7a1f10"/><circle cx="357.9" cy="324.3" r="0.85" fill="#7a1f10"/><circle cx="332.6" cy="326.7" r="0.85" fill="#7a1f10"/><circle cx="337.2" cy="326.7" r="0.85" fill="#7a1f10"/><circle cx="341.8" cy="326.7" r="0.85" fill="#7a1f10"/><circle cx="346.4" cy="326.7" r="0.85" fill="#7a1f10"/><circle cx="351.0" cy="326.7" r="0.85" fill="#7a1f10"/><circle cx="355.6" cy="326.7" r="0.85" fill="#7a1f10"/><rect x="349" y="340.2" width="24.100000000000023" height="12.4" rx="1.6" fill="url(#gPS)"/><path d="M360.1,346.4 L362.6,343.79999999999995 L373.1,343.79999999999995 L373.1,349.0 L362.6,349.0Z" fill="#4a4a4a"/><rect x="372.3" y="341.2" width="5.6" height="10.4" fill="#4d4d4d"/><rect x="376.3" y="338.59999999999997" width="7" height="15.6" rx="1" fill="url(#gPR)"/><circle cx="352.6" cy="346.0" r="0.9" fill="#f7d9c4"/><circle cx="357.0" cy="346.0" r="0.9" fill="#f7d9c4"/><circle cx="354.8" cy="348.3" r="0.9" fill="#f7d9c4"/><circle cx="352.6" cy="350.6" r="0.9" fill="#f7d9c4"/><circle cx="357.0" cy="350.6" r="0.9" fill="#f7d9c4"/><circle cx="360.6" cy="346.5" r="0.9" fill="#f7d9c4"/><circle cx="360.6" cy="350.0" r="0.9" fill="#f7d9c4"/><use href="#scope" transform="matrix(0.4828,-0.0987,0.0679,0.4928,270.06,301.96)"/><use href="#body" transform="matrix(0.510,-0.1117,0.0483,0.5068,290.7,324.8)"/><path d="M392,357.5 Q392,356 393.5,356 L401,356 L401,367 L393.5,367 Q392,367 392,365.5Z" fill="#f47a16"/><rect x="493.6" y="353" width="8.4" height="11" rx="0.8" fill="#3a3a3a"/><polygon points="367.0,393.9 370.2,390.8 374.8,396.2 378.8,395.5 381.9,393.0 382.7,410.3 370.2,415.0 367.0,418.0 365.5,415.0 367.8,405.6" fill="#5c5c5c" /><polygon points="366.2,381.4 371.7,376.7 382.7,377.2 385.3,381.4 381.9,388.4 378.8,395.5 374.8,396.2 370.2,390.0 367.0,384.5" fill="#f47716" /><polygon points="371.5,398.0 380.0,408.5 379.0,410.5 370.5,400.0" fill="#474747" /><path fill-rule="evenodd" fill="#424242" d="M488.4,317.5 L508,318.2 L520.3,324.4 L565,323.5 L566,331 L560,355 L506,335.5 L488.4,335.3Z M518.5,330.8 L561.5,330.6 Q563,331 562.3,332.5 L557.5,349 Q556.8,350.6 555,350 L517.5,333Z"/><polygon points="508.0,318.8 520.3,325.0 565.0,324.2 565.0,325.4 520.0,326.4 507.6,320.2" fill="#6a6a6a" /><path d="M564.4,322.8 L571,323.2 Q573.3,323.8 572.8,326 L572.6,327.0 L572.4,328.6 L571.5,328.8 L571.5,329.5 L572.2,329.9 L572.0,331.5 L571.1,331.7 L571.1,332.4 L571.8,332.8 L571.6,334.4 L570.7,334.6 L570.8,335.3 L571.5,335.7 L571.3,337.3 L570.4,337.5 L570.4,338.2 L571.1,338.6 L570.9,340.1 L570.0,340.3 L570.0,341.0 L570.7,341.4 L570.5,343.0 L569.6,343.2 L569.6,343.9 L570.3,344.3 L570.1,345.9 L569.2,346.1 L569.3,346.8 L570.0,347.2 L569.7,348.8 L568.8,349.0 L568.9,349.7 L569.6,350.1 L569.4,351.7 L568.5,351.9 L568.5,352.6 L568.8,356 L559.5,355 L558.6,353.6 L565.4,330.8Z" fill="url(#gPY)"/><circle cx="503" cy="329" r="2.3" fill="none" stroke="#5e5e5e" stroke-width="0.6"/><path fill-rule="evenodd" fill="#454545" d="M513.4,378.6 Q513.4,377.8 514.4,377.8 L522.8,377.8 L522.8,378.4 L560.6,378.3 L564.5,376.7 Q567.5,377.5 568.4,380.6 L567.7,421.3 L564.5,422 L560.8,410.3 L552.8,395 L522.8,395.2 L522.8,397 L514.4,397 Q513.4,397 513.4,396Z M522.8,381.6 L553.5,381.4 L559.5,390.8 L556,392.4 L522.8,392.3Z"/><polygon points="558.0,391.5 562.5,394.5 558.8,396.6 556.6,393.0" fill="#ffffff" /><rect x="515.6" y="387.5" width="2.6" height="7" fill="#f06a12"/><rect x="516.5" y="394" width="0.9" height="4.2" fill="#f06a12"/><path d="M565,381.5 L568.2,381.7" stroke="#2d2d2d" stroke-width="0.9"/><path d="M565,384.5 L568.2,384.7" stroke="#2d2d2d" stroke-width="0.9"/><path d="M565,387.5 L568.2,387.7" stroke="#2d2d2d" stroke-width="0.9"/><path d="M565,390.5 L568.2,390.7" stroke="#2d2d2d" stroke-width="0.9"/><path d="M565,393.5 L568.2,393.7" stroke="#2d2d2d" stroke-width="0.9"/><path d="M565,396.5 L568.2,396.7" stroke="#2d2d2d" stroke-width="0.9"/><path d="M565,399.5 L568.2,399.7" stroke="#2d2d2d" stroke-width="0.9"/><path d="M565,402.5 L568.2,402.7" stroke="#2d2d2d" stroke-width="0.9"/><path d="M565,405.5 L568.2,405.7" stroke="#2d2d2d" stroke-width="0.9"/><path d="M565,408.5 L568.2,408.7" stroke="#2d2d2d" stroke-width="0.9"/><path d="M565,411.5 L568.2,411.7" stroke="#2d2d2d" stroke-width="0.9"/><path d="M565,414.5 L568.2,414.7" stroke="#2d2d2d" stroke-width="0.9"/><path d="M565,417.5 L568.2,417.7" stroke="#2d2d2d" stroke-width="0.9"/></g><text x="441.5" y="471" font-family="Liberation Sans, sans-serif" font-weight="bold" font-size="35" textLength="183" lengthAdjust="spacingAndGlyphs" fill="#858585">DK01036392</text>
</g>
</svg>
</body></html>
